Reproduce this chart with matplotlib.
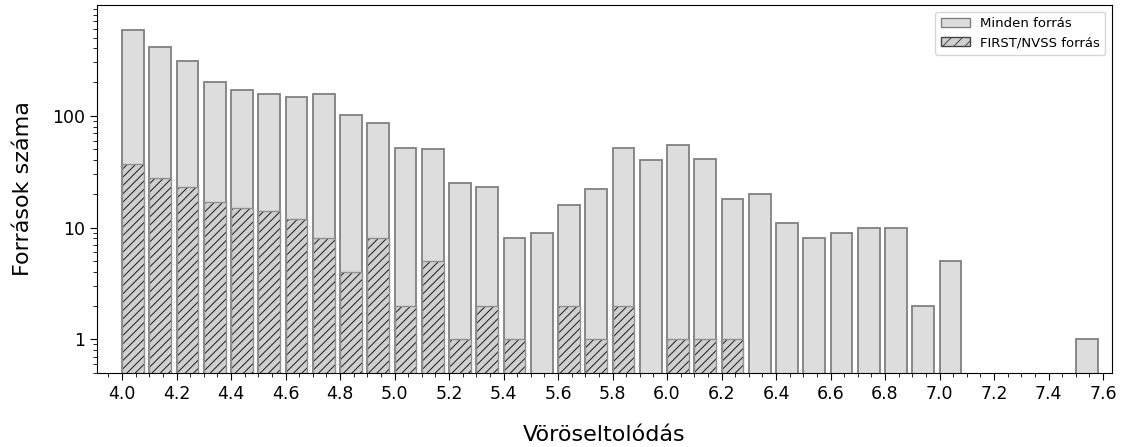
import matplotlib
matplotlib.use('Agg')
import matplotlib.pyplot as plt
from matplotlib.ticker import MultipleLocator, FixedLocator, FixedFormatter
from matplotlib.patches import Patch
import numpy as np

# redshift bins (left edges), width 0.1
bin_left = np.round(np.arange(4.0, 7.6, 0.1), 1)

# number of sources per bin
all_counts = [590, 415, 310, 200, 170, 158, 148, 158, 102, 87,
              52, 50, 25, 23, 8, 9, 16, 22, 51, 40,
              55, 41, 18, 20, 11, 8, 9, 10, 10, 2,
              5, 0, 0, 0, 0, 1]
radio_counts = [37, 28, 23, 17, 15, 14, 12, 8, 4, 8,
                2, 5, 1, 2, 1, 0, 2, 1, 2, 0,
                1, 1, 1, 0, 0, 0, 0, 0, 0, 0,
                0, 0, 0, 0, 0, 0]

xticks = [4.0, 4.2, 4.4, 4.6, 4.8, 5.0, 5.2, 5.4, 5.6, 5.8,
          6.0, 6.2, 6.4, 6.6, 6.8, 7.0, 7.2, 7.4, 7.6]

plt.rcParams['hatch.linewidth'] = 0.7

fig = plt.figure(figsize=(11.25, 4.47), dpi=100)
ax = fig.add_axes([97/1125, 1-373/447, (1112-97)/1125, (373-5)/447])

ax.bar(bin_left, all_counts, width=0.08, align='edge',
       color='#dddddd', edgecolor='#808080', linewidth=1.3)
# hatched part: hatch in dark colour, outline drawn separately in gray
ax.bar(bin_left, radio_counts, width=0.08, align='edge',
       color='#d0d0d0', edgecolor='#1a1a1a', linewidth=0,
       hatch='////')
ax.bar(bin_left, radio_counts, width=0.08, align='edge',
       fill=False, edgecolor='#909090', linewidth=1.0)

ax.set_yscale('log')
ax.set_ylim(0.5, 980)
ax.set_xlim(3.908, 7.633)

ax.yaxis.set_major_locator(FixedLocator([1, 10, 100]))
ax.yaxis.set_major_formatter(FixedFormatter(['1', '10', '100']))
ax.xaxis.set_major_locator(FixedLocator(xticks))
ax.set_xticklabels(['%.1f' % t for t in xticks])
ax.xaxis.set_minor_locator(MultipleLocator(0.05))

ax.tick_params(axis='both', which='major', labelsize=12.5, length=5)
ax.tick_params(axis='both', which='minor', length=3)

ax.set_xlabel('Vöröseltolódás', fontsize=16, labelpad=16)
ax.set_ylabel('Források száma', fontsize=16, labelpad=14)

handles = [Patch(facecolor='#dddddd', edgecolor='#808080', label='Minden forrás'),
           Patch(facecolor='#d0d0d0', edgecolor='#444444', hatch='///',
                 label='FIRST/NVSS forrás')]
ax.legend(handles=handles, loc='upper right', fontsize=9.5, handlelength=2.2)

fig.savefig('out.png', dpi=100)
